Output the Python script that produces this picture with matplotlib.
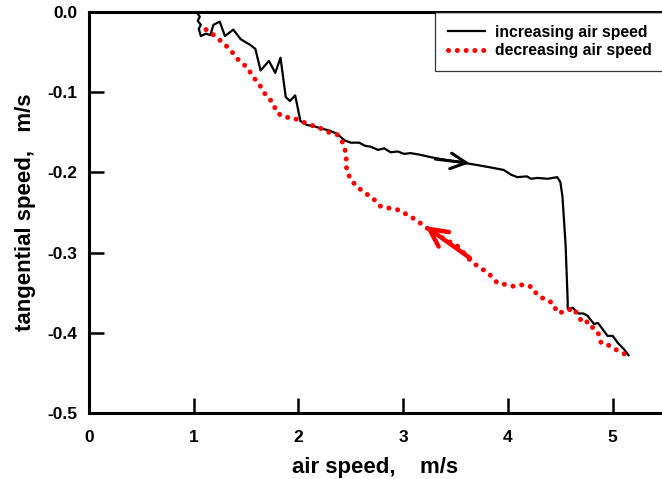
import matplotlib
matplotlib.use("Agg")
import matplotlib.pyplot as plt

# increasing air speed (black line)
inc_x = [1.03, 1.06, 1.04, 1.07, 1.05, 1.07, 1.12, 1.16, 1.19, 1.25, 1.30, 1.38, 1.45, 1.54,
         1.59, 1.64, 1.72, 1.78, 1.83, 1.88, 1.92, 1.97, 2.02, 2.08, 2.14, 2.21, 2.30, 2.37,
         2.44, 2.50, 2.58, 2.64, 2.69, 2.76, 2.82, 2.88, 2.95, 3.01, 3.07, 3.16, 3.26, 3.38,
         3.52, 3.62, 3.71, 3.84, 3.96, 4.03, 4.09, 4.18, 4.22, 4.28, 4.38, 4.47, 4.50, 4.52,
         4.55, 4.57, 4.57, 4.62, 4.67, 4.72, 4.76, 4.82, 4.86, 4.90, 4.95, 5.00, 5.05, 5.11, 5.15]
inc_y = [0.000, -0.006, -0.011, -0.016, -0.021, -0.030, -0.027, -0.029, -0.016, -0.012, -0.030,
         -0.022, -0.034, -0.041, -0.046, -0.073, -0.061, -0.076, -0.057, -0.106, -0.111, -0.104,
         -0.136, -0.141, -0.142, -0.145, -0.148, -0.152, -0.160, -0.163, -0.163, -0.167, -0.168,
         -0.172, -0.170, -0.175, -0.174, -0.177, -0.176, -0.178, -0.181, -0.184, -0.187, -0.189,
         -0.191, -0.194, -0.197, -0.203, -0.206, -0.205, -0.208, -0.207, -0.208, -0.206, -0.212,
         -0.230, -0.290, -0.360, -0.370, -0.369, -0.376, -0.376, -0.379, -0.389, -0.388, -0.395,
         -0.404, -0.404, -0.413, -0.421, -0.428]

# decreasing air speed (red dots)
dec_x = [1.12, 1.16, 1.21, 1.27, 1.35, 1.43, 1.52, 1.56, 1.61, 1.66, 1.70, 1.76, 1.79, 1.86,
         1.95, 2.04, 2.12, 2.21, 2.29, 2.37, 2.42, 2.45, 2.46, 2.46, 2.50, 2.56, 2.64, 2.71,
         2.78, 2.88, 2.96, 3.04, 3.12, 3.20, 3.30, 3.42, 3.53, 3.62, 3.69, 3.77, 3.83, 3.90,
         3.98, 4.05, 4.15, 4.23, 4.28, 4.36, 4.43, 4.47, 4.55, 4.62, 4.68, 4.71, 4.77, 4.81,
         4.86, 4.89, 4.95, 5.03, 5.09, 5.15]
dec_y = [-0.022, -0.025, -0.031, -0.037, -0.047, -0.060, -0.070, -0.080, -0.087, -0.097, -0.106,
         -0.113, -0.125, -0.131, -0.132, -0.137, -0.141, -0.145, -0.150, -0.153, -0.162, -0.174,
         -0.187, -0.197, -0.209, -0.218, -0.226, -0.232, -0.242, -0.245, -0.247, -0.253, -0.259,
         -0.267, -0.276, -0.285, -0.293, -0.307, -0.315, -0.322, -0.328, -0.338, -0.340, -0.342,
         -0.340, -0.343, -0.353, -0.359, -0.363, -0.375, -0.374, -0.369, -0.380, -0.388, -0.386,
         -0.394, -0.400, -0.413, -0.415, -0.421, -0.425, -0.429]

# direction arrows (tail, tip)
inc_arrow = [(3.28, -0.183), (3.66, -0.189)]
dec_arrow = [(3.66, -0.309), (3.19, -0.265)]

x_ticks = [0, 1, 2, 3, 4, 5]
y_ticks = [0.0, -0.1, -0.2, -0.3, -0.4, -0.5]

plt.rcParams['font.family'] = ['Liberation Sans', 'DejaVu Sans']
plt.rcParams['font.weight'] = 'bold'

fig = plt.figure(figsize=(6.62, 4.79), dpi=100)
ax = fig.add_axes([0.134, 0.138, 0.866, 0.837])

ax.plot(inc_x, inc_y, color='black', lw=1.6, label='increasing air speed', zorder=3)
ax.plot(dec_x, dec_y, color='red', lw=3.6, linestyle=(0, (0.01, 1.75)),
        dash_capstyle='round', label='decreasing air speed', zorder=4)

ax.annotate('', xy=inc_arrow[1], xytext=inc_arrow[0],
            arrowprops=dict(arrowstyle='->', color='black', lw=2.2, mutation_scale=28))
ax.annotate('', xy=dec_arrow[1], xytext=dec_arrow[0],
            arrowprops=dict(arrowstyle='->', color='red', lw=3.2, mutation_scale=32))

ax.set_xlim(0, 5.47)
ax.set_ylim(-0.5, 0.0)
ax.set_xticks(x_ticks)
ax.set_yticks(y_ticks)
ax.set_xticklabels([str(t) for t in x_ticks])
ax.set_yticklabels([f'{t:.1f}' for t in y_ticks])
ax.tick_params(direction='in', length=11, width=1.8, labelsize=12.5,
               top=False, right=False)
ax.tick_params(axis='x', pad=12)
ax.tick_params(axis='y', pad=8)

for side in ['left', 'bottom', 'top']:
    ax.spines[side].set_linewidth(2.2)
ax.spines['right'].set_visible(False)

ax.set_xlabel('air speed,    m/s', fontsize=16, fontweight='bold', labelpad=9)
ax.set_ylabel('tangential speed,   m/s', fontsize=16, fontweight='bold', labelpad=8)

leg = ax.legend(loc='upper right', bbox_to_anchor=(1.004, 1.0), borderaxespad=0,
                fontsize=11.3, frameon=True, fancybox=False, handlelength=2.4,
                handletextpad=0.6, borderpad=0.8, labelspacing=0.25)
leg.get_frame().set_edgecolor('black')
leg.get_frame().set_linewidth(0.9)

fig.savefig('out.png', dpi=100)
